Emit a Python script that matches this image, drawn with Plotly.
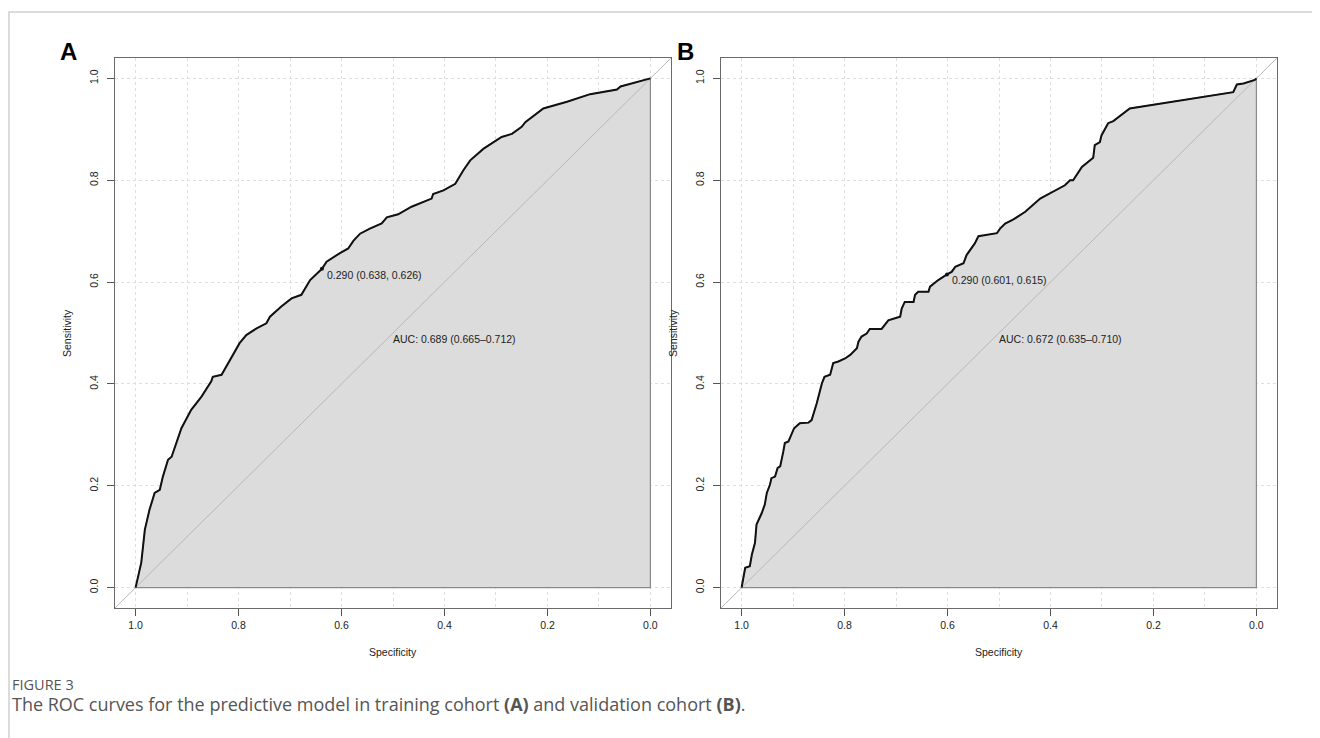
import plotly.graph_objects as go

# ---------------- data ----------------
spec_A = [1.000, 0.989, 0.982, 0.973, 0.963, 0.953, 0.947, 0.937, 0.930, 0.921,
          0.911, 0.892, 0.872, 0.853, 0.850, 0.833, 0.817, 0.798, 0.785, 0.765,
          0.746, 0.739, 0.717, 0.697, 0.678, 0.661, 0.638, 0.629, 0.603, 0.587,
          0.577, 0.564, 0.545, 0.522, 0.512, 0.490, 0.464, 0.425, 0.422, 0.402,
          0.379, 0.363, 0.350, 0.324, 0.289, 0.269, 0.250, 0.243, 0.208, 0.162,
          0.117, 0.065, 0.058, 0.000]
sens_A = [0.000, 0.049, 0.114, 0.153, 0.186, 0.192, 0.218, 0.251, 0.257, 0.284,
          0.313, 0.349, 0.375, 0.405, 0.414, 0.418, 0.447, 0.480, 0.496, 0.509,
          0.519, 0.532, 0.552, 0.568, 0.575, 0.604, 0.626, 0.640, 0.657, 0.666,
          0.681, 0.695, 0.705, 0.715, 0.727, 0.733, 0.748, 0.764, 0.773, 0.780,
          0.793, 0.820, 0.839, 0.862, 0.885, 0.891, 0.905, 0.914, 0.941, 0.954,
          0.969, 0.978, 0.984, 1.000]

spec_B = [1.000, 0.993, 0.984, 0.980, 0.974, 0.971, 0.961, 0.955, 0.951, 0.945,
          0.942, 0.935, 0.930, 0.925, 0.919, 0.916, 0.909, 0.903, 0.898, 0.887,
          0.870, 0.864, 0.854, 0.844, 0.839, 0.828, 0.822, 0.812, 0.799, 0.789,
          0.776, 0.773, 0.767, 0.757, 0.751, 0.728, 0.721, 0.715, 0.702, 0.692,
          0.689, 0.683, 0.666, 0.663, 0.657, 0.637, 0.634, 0.618, 0.601, 0.592,
          0.585, 0.569, 0.563, 0.553, 0.547, 0.540, 0.524, 0.504, 0.498, 0.488,
          0.472, 0.449, 0.420, 0.398, 0.372, 0.362, 0.356, 0.339, 0.317, 0.314,
          0.304, 0.301, 0.288, 0.278, 0.246, 0.045, 0.038, 0.025, 0.003, 0.000]
sens_B = [0.000, 0.039, 0.042, 0.065, 0.088, 0.124, 0.146, 0.163, 0.186, 0.202,
          0.215, 0.218, 0.235, 0.238, 0.267, 0.284, 0.287, 0.303, 0.313, 0.323,
          0.324, 0.329, 0.362, 0.401, 0.414, 0.418, 0.441, 0.444, 0.450, 0.457,
          0.470, 0.483, 0.493, 0.499, 0.508, 0.508, 0.516, 0.525, 0.529, 0.532,
          0.548, 0.561, 0.561, 0.575, 0.581, 0.581, 0.591, 0.604, 0.615, 0.620,
          0.630, 0.637, 0.653, 0.669, 0.676, 0.690, 0.692, 0.696, 0.705, 0.715,
          0.723, 0.738, 0.764, 0.776, 0.790, 0.800, 0.800, 0.826, 0.844, 0.869,
          0.875, 0.888, 0.912, 0.916, 0.941, 0.973, 0.988, 0.990, 0.997, 1.000]

thr_A = {"label": "0.290 (0.638, 0.626)", "spec": 0.638, "sens": 0.626}
thr_B = {"label": "0.290 (0.601, 0.615)", "spec": 0.601, "sens": 0.615}
auc_A = "AUC: 0.689 (0.665\u20130.712)"
auc_B = "AUC: 0.672 (0.635\u20130.710)"
auc_pos = (0.5, 0.5)

tick_vals = [0.0, 0.2, 0.4, 0.6, 0.8, 1.0]
tick_labels = ["0.0", "0.2", "0.4", "0.6", "0.8", "1.0"]
x_grid_vals = [0.1, 0.3, 0.5, 0.7, 0.9]
x_title = "Specificity"
y_title = "Sensitivity"
panel_letters = ["A", "B"]
caption_head = "FIGURE 3"
caption_html = ("The ROC curves for the predictive model in training cohort "
                "<b>(A)</b> and validation cohort <b>(B)</b>.")

# ---------------- layout geometry ----------------
# the page body has an 8 px margin, so the figure is placed 8 px in from the
# window's top-left corner; page coordinates below are converted accordingly
OFF = 8
W, H = 1312, 730
RFONT = "Liberation Sans, Arial, sans-serif"
CFONT = "Open Sans, Noto Sans, sans-serif"
x_range = [1.04, -0.04]
y_range = [-0.04, 1.04]
boxes = [(115, 671), (721, 1277)]   # page px
box_top, box_bot = 58, 608          # page px


def px(x):
    return (x - OFF) / W


def py(y):
    return 1 - (y - OFF) / H


fig = go.Figure()

panels = [(spec_A, sens_A, thr_A, auc_A), (spec_B, sens_B, thr_B, auc_B)]
for i, (sp, se, thr, auc) in enumerate(panels):
    xa = "x" if i == 0 else "x2"
    ya = "y" if i == 0 else "y2"
    # AUC polygon
    fig.add_trace(go.Scatter(
        x=sp + [0.0, 1.0], y=se + [0.0, 0.0], xaxis=xa, yaxis=ya,
        mode="lines", fill="toself", fillcolor="#dcdcdc",
        line=dict(color="#8a8a8a", width=1.2), hoverinfo="skip", showlegend=False))
    # diagonal reference line
    fig.add_trace(go.Scatter(
        x=x_range, y=y_range, xaxis=xa, yaxis=ya, mode="lines",
        line=dict(color="#b8b8b8", width=1), hoverinfo="skip", showlegend=False))
    # ROC curve
    fig.add_trace(go.Scatter(
        x=sp, y=se, xaxis=xa, yaxis=ya, mode="lines",
        line=dict(color="#111111", width=2), showlegend=False))
    # threshold point
    fig.add_trace(go.Scatter(
        x=[thr["spec"]], y=[thr["sens"]], xaxis=xa, yaxis=ya, mode="markers",
        marker=dict(color="#111111", size=4), showlegend=False))
    fig.add_annotation(x=thr["spec"], y=thr["sens"], xref=xa, yref=ya,
                       text=thr["label"], showarrow=False, xanchor="left",
                       yanchor="top", xshift=3, yshift=2,
                       font=dict(family=RFONT, size=10.5, color="#222"))
    fig.add_annotation(x=auc_pos[0], y=auc_pos[1], xref=xa, yref=ya,
                       text=auc, showarrow=False, xanchor="left", yanchor="top",
                       xshift=-2, yshift=2,
                       font=dict(family=RFONT, size=10.5, color="#222"))
    # axis titles
    l, r = boxes[i]
    fig.add_annotation(x=px((l + r) / 2), y=py(652), xref="paper", yref="paper",
                       text=x_title, showarrow=False, xanchor="center",
                       yanchor="middle",
                       font=dict(family=RFONT, size=10.5, color="#222"))
    fig.add_annotation(x=px(l - 48), y=py((box_top + box_bot) / 2),
                       xref="paper", yref="paper", text=y_title, textangle=-90,
                       showarrow=False, xanchor="center", yanchor="middle",
                       font=dict(family=RFONT, size=10.5, color="#222"))

axis_common = dict(
    showline=True, mirror=True, linecolor="#6a6a6a", linewidth=1,
    ticks="outside", ticklen=7, tickcolor="#555", tickwidth=1,
    tickmode="array", tickvals=tick_vals, ticktext=tick_labels,
    tickfont=dict(family=RFONT, size=10.5, color="#222"),
    showgrid=True, gridcolor="#dedede", gridwidth=1, griddash="dot",
    zeroline=False, fixedrange=True,
)

xdom = [[px(l), px(r)] for l, r in boxes]
ydom = [py(box_bot), py(box_top)]

fig.update_layout(
    width=W, height=H, margin=dict(l=0, r=0, t=0, b=0),
    paper_bgcolor="white", plot_bgcolor="white",
    xaxis=dict(domain=xdom[0], range=x_range, anchor="y",
               minor=dict(tickvals=x_grid_vals, showgrid=True, gridcolor="#dedede",
                          griddash="dot", ticks=""), **axis_common),
    yaxis=dict(domain=ydom, range=y_range, anchor="x", tickangle=-90,
               ticklabelstandoff=5, **axis_common),
    xaxis2=dict(domain=xdom[1], range=x_range, anchor="y2",
                minor=dict(tickvals=x_grid_vals, showgrid=True, gridcolor="#dedede",
                           griddash="dot", ticks=""), **axis_common),
    yaxis2=dict(domain=ydom, range=y_range, anchor="x2", tickangle=-90,
                ticklabelstandoff=5, **axis_common),
)

# panel letters
for letter, (lx, ly) in zip(panel_letters, [(68, 52), (685, 52)]):
    fig.add_annotation(x=px(lx), y=py(ly), xref="paper", yref="paper",
                       text="<b>%s</b>" % letter, showarrow=False,
                       xanchor="center", yanchor="middle",
                       font=dict(family=RFONT, size=24, color="#000"))

# caption
fig.add_annotation(x=px(10), y=py(684), xref="paper", yref="paper",
                   text=caption_head, showarrow=False, xanchor="left",
                   yanchor="middle",
                   font=dict(family=CFONT, size=14.5, color="#555"))
fig.add_annotation(x=px(10), y=py(704), xref="paper", yref="paper",
                   text=caption_html, showarrow=False, xanchor="left",
                   yanchor="middle",
                   font=dict(family=CFONT, size=18, color="#555"))

# outer frame of the figure (left and top edges visible)
fig.add_shape(type="rect", xref="paper", yref="paper",
              x0=px(9), y0=py(12), x1=px(1340), y1=py(760),
              line=dict(color="#d0d0d0", width=1.5), layer="below")

fig.write_html("out.html")
